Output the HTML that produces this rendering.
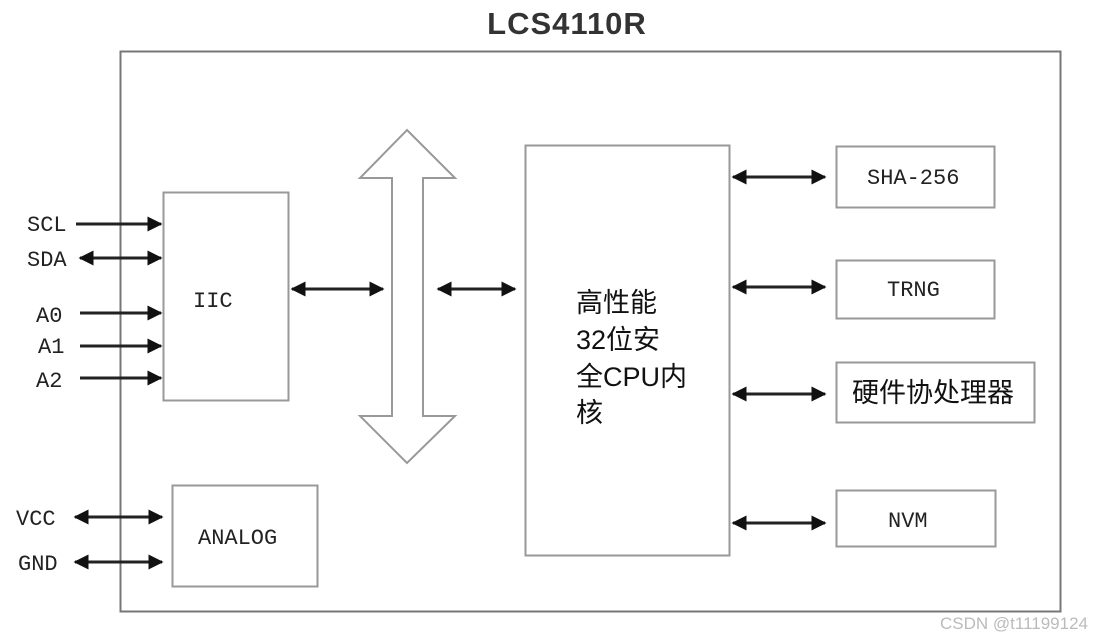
<!DOCTYPE html>
<html><head><meta charset="utf-8"><style>
html,body{margin:0;padding:0;background:#fff;}
svg{display:block;}
.m{font-family:"Liberation Mono","DejaVu Sans Mono",monospace;font-size:22px;fill:#222;}
.c{font-family:"Liberation Sans","Noto Sans CJK SC",sans-serif;font-size:27px;fill:#111;}
</style></head><body>
<svg width="1093" height="639" viewBox="0 0 1093 639" xmlns="http://www.w3.org/2000/svg">
<defs>
<marker id="a" viewBox="0 0 10 10" refX="9" refY="5" markerWidth="5" markerHeight="5" orient="auto-start-reverse"><path d="M0,0 L10,5 L0,10 z" fill="#111"/></marker>
</defs>
<text x="567" y="34" text-anchor="middle" font-family="Liberation Sans,sans-serif" font-weight="bold" font-size="31" letter-spacing="1" fill="#333">LCS4110R</text>
<rect x="120.5" y="51.5" width="940" height="560" fill="none" stroke="#777" stroke-width="2"/>
<g fill="none" stroke="#999" stroke-width="2">
<rect x="163.5" y="192.5" width="125" height="208"/>
<rect x="172.5" y="485.5" width="145" height="101"/>
<rect x="525.5" y="145.5" width="204" height="410"/>
<rect x="836.5" y="146.5" width="158" height="61"/>
<rect x="836.5" y="260.5" width="158" height="58"/>
<rect x="836.5" y="362.5" width="198" height="60"/>
<rect x="836.5" y="490.5" width="159" height="56"/>
<path d="M407,130 L455,178 L423,178 L423,416 L455,416 L407,463 L360,416 L392,416 L392,178 L360,178 Z" fill="#fff"/>
</g>
<g stroke="#222" stroke-width="3" fill="none">
<line x1="76" y1="224" x2="161" y2="224" marker-end="url(#a)"/>
<line x1="80" y1="258" x2="161" y2="258" marker-start="url(#a)" marker-end="url(#a)"/>
<line x1="80" y1="313" x2="161" y2="313" marker-end="url(#a)"/>
<line x1="80" y1="346" x2="161" y2="346" marker-end="url(#a)"/>
<line x1="80" y1="378" x2="161" y2="378" marker-end="url(#a)"/>
<line x1="75" y1="517" x2="162" y2="517" marker-start="url(#a)" marker-end="url(#a)"/>
<line x1="75" y1="562" x2="162" y2="562" marker-start="url(#a)" marker-end="url(#a)"/>
<line x1="292" y1="289" x2="383" y2="289" marker-start="url(#a)" marker-end="url(#a)"/>
<line x1="438" y1="289" x2="515" y2="289" marker-start="url(#a)" marker-end="url(#a)"/>
<line x1="733" y1="177" x2="825" y2="177" marker-start="url(#a)" marker-end="url(#a)"/>
<line x1="733" y1="287" x2="825" y2="287" marker-start="url(#a)" marker-end="url(#a)"/>
<line x1="733" y1="394" x2="825" y2="394" marker-start="url(#a)" marker-end="url(#a)"/>
<line x1="733" y1="523" x2="825" y2="523" marker-start="url(#a)" marker-end="url(#a)"/>
</g>
<text class="m" x="27" y="231">SCL</text>
<text class="m" x="27" y="266">SDA</text>
<text class="m" x="36" y="322">A0</text>
<text class="m" x="38" y="353">A1</text>
<text class="m" x="36" y="387">A2</text>
<text class="m" x="16" y="525">VCC</text>
<text class="m" x="18" y="570">GND</text>
<text class="m" x="193" y="307">IIC</text>
<text class="m" x="198" y="544">ANALOG</text>
<text class="m" x="867" y="184">SHA-256</text>
<text class="m" x="887" y="296">TRNG</text>
<text class="m" x="888" y="527">NVM</text>
<text class="c" x="852" y="402">硬件协处理器</text>
<text class="c" x="576" y="312">高性能</text>
<text class="c" x="576" y="349">32位安</text>
<text class="c" x="576" y="386">全CPU内</text>
<text class="c" x="576" y="422">核</text>
<text x="1088" y="629" text-anchor="end" font-family="Liberation Sans,sans-serif" font-size="17" fill="#bbb">CSDN @t11199124</text>
</svg>
</body></html>
